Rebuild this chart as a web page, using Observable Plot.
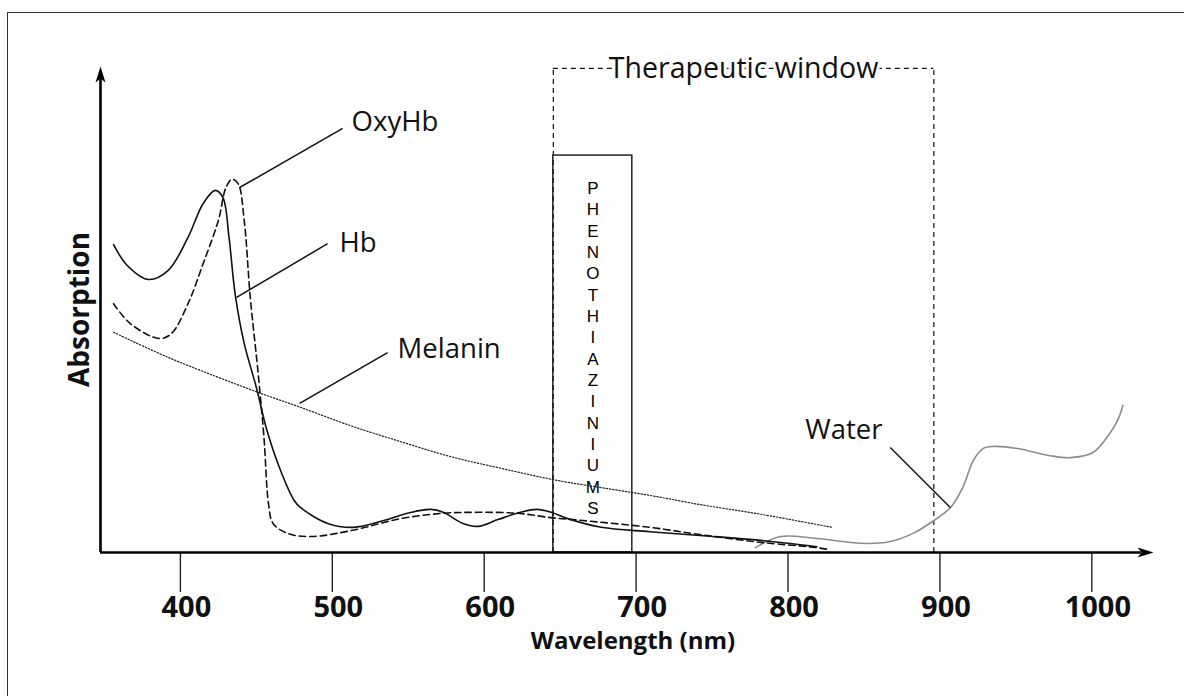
<!DOCTYPE html>
<html><head><meta charset="utf-8">
<script src="https://cdn.jsdelivr.net/npm/d3@7"></script>
<script src="https://cdn.jsdelivr.net/npm/@observablehq/plot@0.6"></script>
<style>
body{margin:0;background:#fff;}
#wrap{position:relative;width:1184px;height:696px;overflow:hidden;background:#fff;}
#frame{position:absolute;left:7px;top:12px;width:1300px;height:800px;border-left:1.5px solid #333;border-top:1.5px solid #333;pointer-events:none;}
#wrap svg g[aria-label="x-axis tick label"] text{font-weight:bold;}
</style></head><body><div id="wrap"></div>
<script>
// ---- data (wavelength in nm, absorption in arbitrary units) ----
const wavelengthTicks = [400, 500, 600, 700, 800, 900, 1000];

const hbNm  = [356, 365, 379, 392, 405, 415, 423, 428, 432, 436, 442, 450, 457, 466, 475, 479, 497, 514, 534, 552, 565, 573, 586, 596, 609, 624, 635, 644, 655, 677, 709, 742, 782, 819];
const hbAbs = [63.6, 59.3, 56.4, 58.3, 65.1, 72.1, 74.8, 73.3, 65.1, 53.5, 43.2, 34.1, 25.2, 16.9, 10.7, 9.3, 6.0, 5.2, 6.6, 8.3, 8.9, 8.3, 6.0, 5.4, 6.8, 8.3, 8.9, 8.3, 7.0, 5.2, 4.3, 3.5, 2.5, 1.2];

const oxyNm  = [356, 367, 386, 394, 405, 415, 425, 430, 434, 438, 442, 446, 451, 455, 458, 461, 471, 486, 512, 545, 573, 596, 622, 644, 665, 709, 742, 782, 819, 827];
const oxyAbs = [51.4, 47.3, 44.2, 45.2, 51.4, 59.7, 68.6, 75.4, 77.1, 76.2, 68.6, 52.7, 37.6, 23.8, 10.1, 6.0, 3.9, 3.3, 4.5, 7.0, 8.1, 8.3, 8.1, 7.2, 6.6, 5.2, 3.7, 2.1, 1.0, 0.6];

const melaninNm  = [356, 392, 451, 479, 512, 545, 578, 611, 648, 709, 742, 782, 829];
const melaninAbs = [45.5, 40.3, 33.1, 30.0, 26.2, 22.9, 19.8, 17.4, 14.9, 11.8, 9.9, 7.9, 5.2];

const waterNm  = [778.5, 795, 819, 848, 865, 882, 896, 907, 915, 922, 928.5, 935, 951, 972.5, 986, 1001, 1010, 1017, 1020.5];
const waterAbs = [1.0, 3.3, 2.9, 1.9, 2.1, 3.9, 6.6, 9.3, 13.4, 19.0, 21.5, 21.9, 21.5, 20.0, 19.6, 20.7, 23.8, 27.3, 30.4];

// curve labels and their leader lines
const labelNames = ["OxyHb", "Hb", "Melanin", "Water"];
const labelNm    = [512.7, 504.8, 543, 811.4];
const labelAbs   = [88.8, 64.0, 42.1, 25.2];
const leaderNm1  = [506.8, 496.9, 536.4, 867.3];
const leaderAbs1 = [87.6, 63.8, 41.3, 21.7];
const leaderNm2  = [439, 437, 478.5, 906.8];
const leaderAbs2 = [75.4, 52.7, 30.8, 9.3];

// therapeutic window and photosensitiser band
const windowRange = [645.5, 896];
const windowTop = 100;
const windowTitle = "Therapeutic window";
const windowTitleNm = 770.7;
const dyeRange = [645.5, 697.5];
const dyeTop = 82;
const dyeName = "PHENOTHIAZINIUMS";
const dyeMidAbs = 42.4;

const xTitle = "Wavelength (nm)";
const yTitle = "Absorption";
const xDomain = [347.4, 1040.6];
const yDomain = [0, 100.4];

// ---- build ----
const toRows = (xs, ys) => xs.map((x, i) => ({nm: x, a: ys[i]}));
const hb = toRows(hbNm, hbAbs);
const oxy = toRows(oxyNm, oxyAbs);
const melanin = toRows(melaninNm, melaninAbs);
const water = toRows(waterNm, waterAbs);
const labels = labelNames.map((t, i) => ({t, nm: labelNm[i], a: labelAbs[i]}));
const leaders = labelNames.map((t, i) => ({x1: leaderNm1[i], y1: leaderAbs1[i], x2: leaderNm2[i], y2: leaderAbs2[i]}));

const arrowUp = {draw(ctx) { ctx.moveTo(0, 0); ctx.lineTo(5, 16); ctx.lineTo(0, 12); ctx.lineTo(-5, 16); ctx.closePath(); }};
const arrowRight = {draw(ctx) { ctx.moveTo(0, 0); ctx.lineTo(-16, 5); ctx.lineTo(-12, 0); ctx.lineTo(-16, -5); ctx.closePath(); }};

const font = "Open Sans";
const chart = Plot.plot({
  width: 1184, height: 696,
  marginLeft: 100, marginRight: 31, marginTop: 66, marginBottom: 144,
  style: {fontFamily: font, background: "transparent", overflow: "visible"},
  x: {domain: xDomain},
  y: {domain: yDomain, axis: null},
  marks: [
    // therapeutic window (dashed)
    Plot.ruleX(windowRange, {y1: 0, y2: windowTop, stroke: "#111", strokeWidth: 1.2, strokeDasharray: "5,4"}),
    Plot.ruleY([windowTop], {x1: windowRange[0], x2: windowRange[1], stroke: "#111", strokeWidth: 1.2, strokeDasharray: "5,4"}),
    Plot.text([windowTitle], {x: windowTitleNm, y: windowTop, text: d => d, fontSize: 28.5, fill: "#111", stroke: "white", strokeWidth: 6, fontFamily: font}),
    // phenothiazinium band
    Plot.rect([dyeRange], {x1: d => d[0], x2: d => d[1], y1: 0, y2: dyeTop, fill: "none", stroke: "#222", strokeWidth: 1.5}),
    Plot.text([dyeName], {x: (dyeRange[0] + dyeRange[1]) / 2, y: dyeMidAbs, text: d => d.split("").join("\n"), fontSize: 17, lineHeight: 1.255, fontFamily: "Liberation Sans", fill: "#000"}),
    // spectra
    Plot.line(melanin, {x: "nm", y: "a", curve: "catmull-rom", stroke: "#222", strokeWidth: 1.2, strokeDasharray: "1.4,1.8"}),
    Plot.line(water, {x: "nm", y: "a", curve: "catmull-rom", stroke: "#8c8c8c", strokeWidth: 1.6}),
    Plot.line(oxy, {x: "nm", y: "a", curve: "catmull-rom", stroke: "#111", strokeWidth: 1.6, strokeDasharray: "6.5,4"}),
    Plot.line(hb, {x: "nm", y: "a", curve: "catmull-rom", stroke: "#111", strokeWidth: 1.6}),
    // labels
    Plot.link(leaders, {x1: "x1", y1: "y1", x2: "x2", y2: "y2", stroke: "#111", strokeWidth: 1.5}),
    Plot.text(labels, {x: "nm", y: "a", text: "t", textAnchor: "start", fontSize: 27.5, fill: "#111", fontFamily: font}),
    // axes with arrows
    Plot.axisX({ticks: wavelengthTicks, tickSize: 40, tickFormat: () => "", label: null, stroke: "#222", strokeWidth: 1.4}),
    Plot.axisX({ticks: wavelengthTicks, tickSize: 0, tickPadding: 44, dx: 6, fontSize: 29, fontWeight: "bold", label: null, fill: "#111", tickFormat: d => String(d)}),
    Plot.ruleY([0], {x1: xDomain[0], x2: xDomain[1] - 8, stroke: "#000", strokeWidth: 2.6}),
    Plot.ruleX([xDomain[0]], {y1: 0, y2: yDomain[1] - 2.5, stroke: "#000", strokeWidth: 2.6}),
    Plot.dot([0], {x: xDomain[0], y: yDomain[1], symbol: arrowUp, fill: "#000", stroke: "none"}),
    Plot.dot([0], {x: xDomain[1], y: 0, symbol: arrowRight, fill: "#000", stroke: "none"}),
    // axis titles
    Plot.text([xTitle], {frameAnchor: "bottom", text: d => d, dy: 96, dx: 6, fontSize: 24, fontWeight: "bold", fill: "#111", fontFamily: font}),
    Plot.text([yTitle], {frameAnchor: "left", text: d => d, textAnchor: "middle", rotate: -90, dx: -20, fontSize: 28, fontWeight: "bold", fill: "#111", fontFamily: font})
  ]
});
const wrap = document.getElementById("wrap");
wrap.appendChild(chart);
const frame = document.createElement("div");
frame.id = "frame";
wrap.appendChild(frame);
</script></body></html>
